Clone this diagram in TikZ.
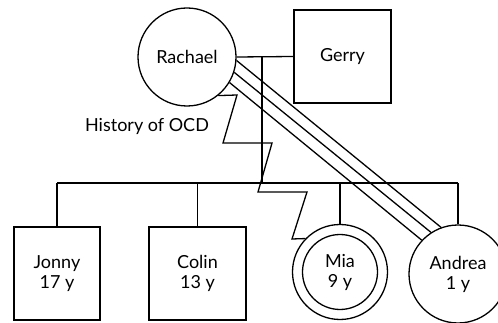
\documentclass[tikz,border=0pt]{standalone}
\usepackage{fontspec}
\setmainfont{Lato}
\begin{document}
\begin{tikzpicture}[x=1pt, y=-1pt, line width=1.3pt,
    every node/.style={font=\fontsize{18}{20}\selectfont, align=center},
    male/.style={draw, rectangle, inner sep=0pt, minimum height=93pt},
    female/.style={draw, circle, inner sep=0pt}]
  \useasboundingbox (0,0) rectangle (498,323);
  \clip (0,0) rectangle (498,323);
  % parents
  \node[female, minimum size=98pt] (rachael) at (187,57) {Rachael};
  \node[male, minimum width=97pt] (gerry) at (342.5,56.5) {Gerry};
  % children
  \node[male, minimum width=86pt] (jonny) at (57,273.5) {Jonny\\17 y};
  \node[male, minimum width=97pt] (colin) at (197.5,273.5) {Colin\\13 y};
  \node[female, minimum size=95pt] (mia) at (340,272) {Mia\\9 y};
  \node[female, minimum size=98pt] (andrea) at (458,274) {Andrea\\1 y};
  \draw (mia.center) circle[radius=37.5pt];
  \node[anchor=base] (ocd) at (147,132) {History of OCD};

  % marriage and sibship
  \coordinate (drop) at (262,57);
  \coordinate (sib) at (262,183);
  \draw (rachael.east) -- (gerry.west);
  \draw (drop) -- (sib);
  \draw (jonny.north |- sib) -- (andrea.north |- sib);
  \foreach \k in {jonny, colin, mia, andrea}
    \draw (\k.north |- sib) -- (\k.north);

  % OCD line
  \draw (rachael.-51) -- (237,95) -- (223,143) -- (272,143) -- (258,192)
    -- (307,192) -- (292,239) -- (mia.136);

  % close relationship
  \draw (rachael.-4) -- (andrea.110);
  \draw (rachael.-18) -- (andrea.123);
  \draw (rachael.-31) -- (andrea.137);
\end{tikzpicture}
\end{document}
